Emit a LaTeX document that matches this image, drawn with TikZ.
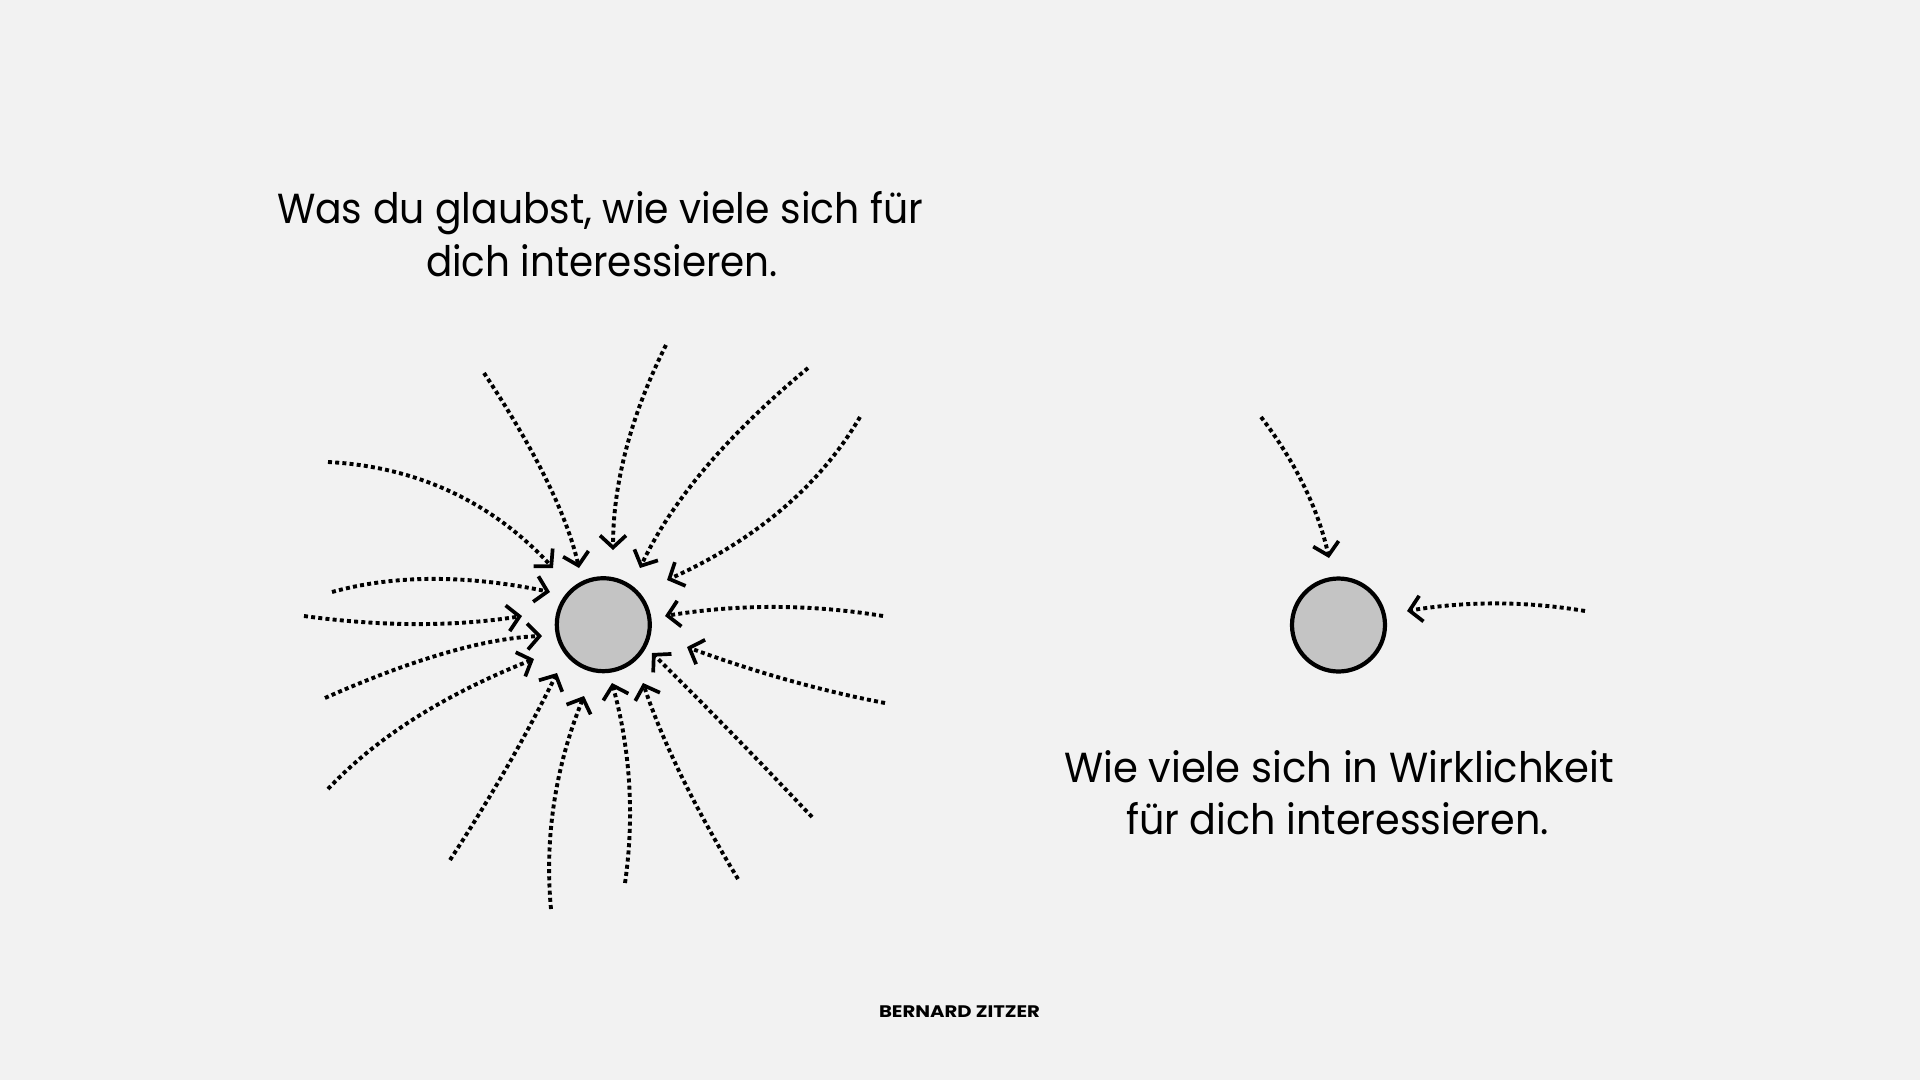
\documentclass[tikz,border=0pt]{standalone}
\usepackage{fontspec}
\usepackage{graphicx}
\setmainfont{Poppins}
\usetikzlibrary{arrows.meta,calc}
\definecolor{bgcol}{HTML}{F2F2F2}
\definecolor{discfill}{HTML}{C4C4C4}
\newsavebox\fitbox
\newlength\fitlen
\newcommand{\fitto}[2]{\sbox\fitbox{#2}\setlength\fitlen{\wd\fitbox}\pgfmathsetmacro\myfitf{#1/\fitlen}\scalebox{\myfitf}[1]{\usebox\fitbox}}
\tikzset{
  disc/.style={circle, draw=black, fill=discfill, line width=4.2pt, minimum size=93pt, inner sep=0pt},
  ray/.style={line width=3.9pt, dash pattern=on 4pt off 3.2pt,
    -{Straight Barb[length=12pt,width=26pt,line width=3.7pt]}},
  caption/.style={anchor=base, inner sep=0pt, font=\fontsize{42}{50}\selectfont},
  credit/.style={anchor=base, inner sep=0pt, font=\bfseries\fontsize{16.7}{20}\selectfont}
}
\begin{document}
\begin{tikzpicture}[x=1pt,y=-1pt]
\useasboundingbox (0,0) rectangle (1920,1080);
\fill[bgcol] (0,0) rectangle (1920,1080);

\node[disc] (c1) at (603.3,624.7) {};
\node[disc] (c2) at (1338.5,625) {};

\foreach \i/\sx/\sy/\qx/\qy/\ex/\ey in {
  1/328/462/461.5/469/553/568,
  2/484/373/561/489/579/568,
  3/666/345/613/451/613/550,
  4/808/368/687/468/640/568,
  5/860/417/800/520/667/580,
  6/883/616/774/598/665/616,
  7/885/703/790/685/687/647,
  8/812/817/730/730/652/653,
  9/738/879/672/770/643/683,
  10/625/883/639.5/783/612/683,
  11/551/909/541/802.5/584/696,
  12/450/860/511/766.5/557/673,
  13/328/789/400/712/534/659,
  14/325/698/458/639/542/636,
  15/304/616/421/632/522/616,
  16/332/592/425/566/550/592,
  17/1261/417/1313/485/1329/558,
  18/1585/611/1496/596/1407/611}
{
  \coordinate (s\i) at (\sx,\sy);
  \coordinate (q\i) at (\qx,\qy);
  \coordinate (e\i) at (\ex,\ey);
  \draw[ray] (s\i) .. controls ($(s\i)!0.6667!(q\i)$) and ($(e\i)!0.6667!(q\i)$) .. (e\i);
}

\node[caption] (t1a) at (600,223) {\fitto{646pt}{Was du glaubst, wie viele sich für}};
\node[caption] (t1b) at (602,276) {\fitto{352pt}{dich interessieren.}};
\node[caption] (t2a) at (1339,782) {\fitto{550pt}{Wie viele sich in Wirklichkeit}};
\node[caption] (t2b) at (1337.5,834) {\fitto{423pt}{für dich interessieren.}};
\node[credit] (cr) at (959.5,1017) {\fitto{161pt}{BERNARD ZITZER}};
\end{tikzpicture}
\end{document}
